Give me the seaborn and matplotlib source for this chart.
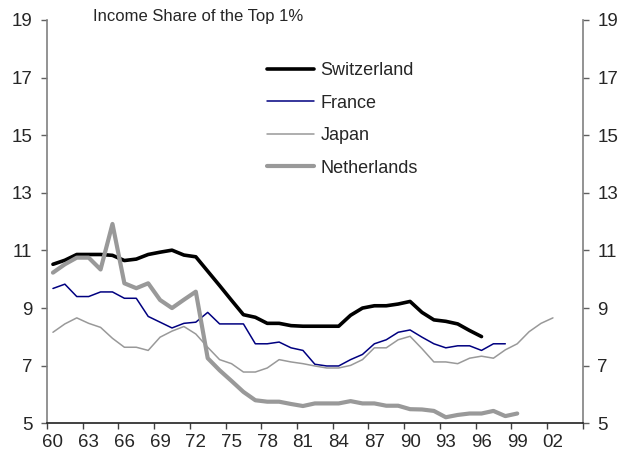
import pandas as pd
import numpy as np
import seaborn as sns
import matplotlib
matplotlib.use("Agg")
import matplotlib.pyplot as plt

# ---- data ----
years_sw = list(range(1960, 1997))
switzerland = [10.52, 10.66, 10.86, 10.86, 10.86, 10.83, 10.65, 10.70, 10.86, 10.94,
               11.01, 10.84, 10.78, 10.28, 9.78, 9.27, 8.77, 8.68, 8.47, 8.47,
               8.39, 8.37, 8.37, 8.37, 8.37, 8.75, 9.00, 9.08, 9.08, 9.14,
               9.23, 8.85, 8.59, 8.54, 8.45, 8.22, 8.01]

years_fr = list(range(1960, 1999))
france = [9.68, 9.83, 9.40, 9.40, 9.56, 9.56, 9.34, 9.34, 8.71, 8.51,
          8.31, 8.47, 8.51, 8.85, 8.45, 8.45, 8.45, 7.76, 7.76, 7.82,
          7.62, 7.53, 7.05, 6.99, 6.99, 7.21, 7.39, 7.76, 7.90, 8.16,
          8.24, 7.99, 7.76, 7.62, 7.69, 7.69, 7.53, 7.76, 7.76]

years_jp = list(range(1960, 2003))
japan = [8.16, 8.45, 8.66, 8.47, 8.33, 7.95, 7.64, 7.64, 7.53, 7.99,
         8.20, 8.36, 8.10, 7.64, 7.21, 7.07, 6.78, 6.78, 6.92, 7.21,
         7.13, 7.07, 6.99, 6.92, 6.92, 7.01, 7.21, 7.62, 7.62, 7.90,
         8.02, 7.59, 7.13, 7.13, 7.07, 7.26, 7.33, 7.26, 7.55, 7.76,
         8.18, 8.47, 8.66]

years_nl = list(range(1960, 2000))
netherlands = [10.23, 10.52, 10.75, 10.75, 10.34, 11.92, 9.86, 9.69, 9.86, 9.28,
               9.00, 9.29, 9.57, 7.26, 6.84, 6.47, 6.09, 5.80, 5.75, 5.75,
               5.67, 5.60, 5.69, 5.69, 5.69, 5.77, 5.69, 5.69, 5.61, 5.61,
               5.49, 5.48, 5.43, 5.21, 5.29, 5.34, 5.34, 5.43, 5.25, 5.34]

series = [("Switzerland", years_sw, switzerland, "#000000", 2.6),
          ("France", years_fr, france, "#000080", 1.1),
          ("Japan", years_jp, japan, "#999999", 1.1),
          ("Netherlands", years_nl, netherlands, "#999999", 3.0)]

sns.set_style("white")
plt.rcParams['font.family'] = ['Liberation Sans', 'DejaVu Sans']

fig = plt.figure(figsize=(6.19, 4.59), dpi=100)
ax = fig.add_axes([47/619, 1-423.3/459, (582.7-47)/619, (423.3-20)/459])

for name, yrs, vals, col, lw in series:
    sns.lineplot(x=yrs, y=vals, ax=ax, color=col, linewidth=lw, label=name)

ax.set_xlim(1959.5, 2004.5)
ax.set_ylim(5, 19)

# tick marks between categories, labels on categories
ax.set_xticks(np.arange(1959.5, 2004.6, 3))
ax.set_xticklabels([])
lab_years = list(range(1960, 2003, 3))
ax.set_xticks(lab_years, minor=True)
ax.set_xticklabels(["%02d" % (y % 100) for y in lab_years], minor=True)
ax.tick_params(axis="x", which="major", direction="out", length=4, width=1, color="#404040", bottom=True)
ax.tick_params(axis="x", which="minor", length=0, labelsize=13.5, pad=8)

ax.set_yticks(range(5, 20, 2))
ax.tick_params(axis="y", direction="out", length=4.5, width=1, color="#606060",
               left=True, right=True, labelleft=True, labelright=True, labelsize=13.5, pad=6)

for s in ["left", "right"]:
    ax.spines[s].set_color("#808080")
    ax.spines[s].set_linewidth(1.2)
ax.spines["bottom"].set_color("#202020")
ax.spines["bottom"].set_linewidth(1.2)
ax.spines["top"].set_visible(False)
ax.set_xlabel("")
ax.set_ylabel("")

fig.text(93/619, 1-17/459, "Income Share of the Top 1%", fontsize=12, va="center", ha="left")

ax.legend(loc="upper left", bbox_to_anchor=(267/619, 1-62/459), bbox_transform=fig.transFigure,
          frameon=False, fontsize=13, handlelength=2.6, handletextpad=0.35,
          labelspacing=0.86, borderpad=0, borderaxespad=0)

fig.savefig("out.png", dpi=100)
